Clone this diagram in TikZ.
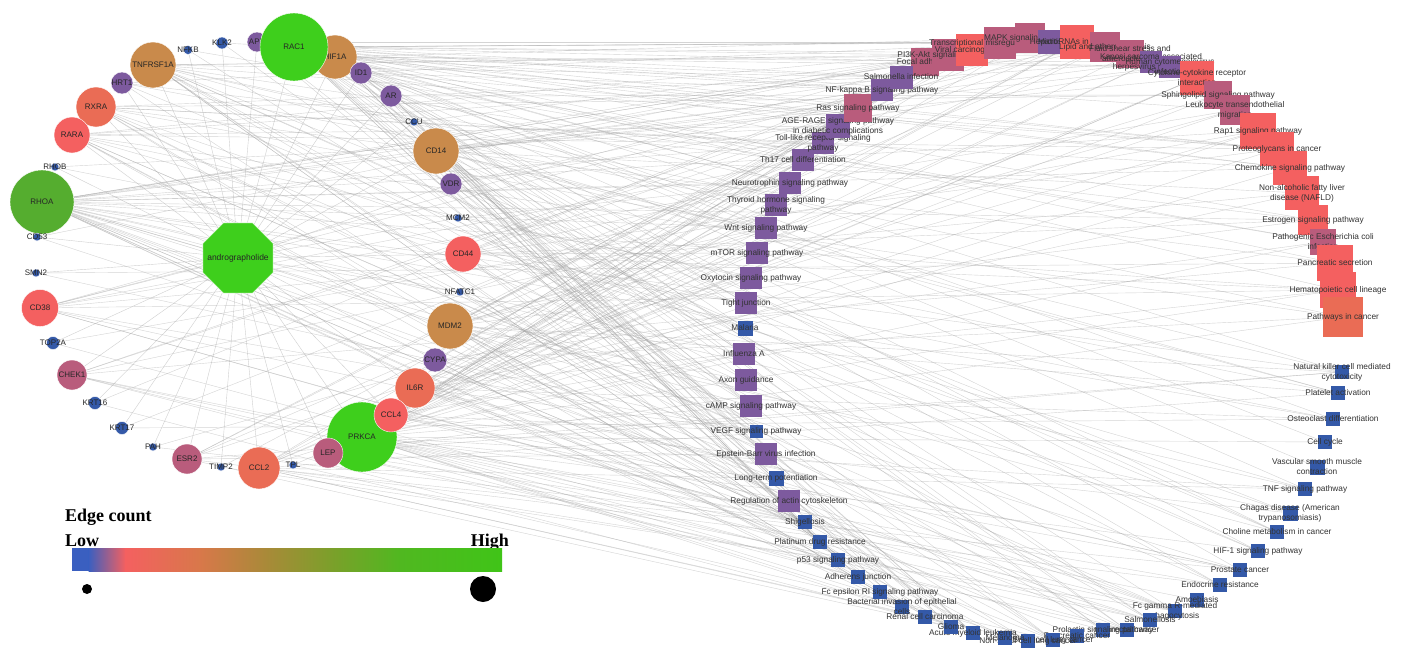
\documentclass[tikz,border=0pt]{standalone}
\usepackage{fontspec}
\setmainfont{Liberation Sans}
\newfontfamily\legfont{Liberation Serif}
\usetikzlibrary{shapes.geometric}
\pgfdeclarelayer{bg}
\pgfsetlayers{bg,main}
\definecolor{cblue}{HTML}{3459A8}
\definecolor{cpurp}{HTML}{7D5A9E}
\definecolor{cmauve}{HTML}{B95C7C}
\definecolor{cred}{HTML}{F46060}
\definecolor{corange}{HTML}{EA6C55}
\definecolor{cbrown}{HTML}{C98A4B}
\definecolor{cgreen}{HTML}{3ECF1C}
\definecolor{cdgreen}{HTML}{55AD2F}
\definecolor{edgec}{HTML}{A0A0A0}
\tikzset{
  gene/.style={circle, inner sep=0pt, draw=white, line width=0.4pt},
  glab/.style={font=\fontsize{8}{9}\selectfont, text=black!85, inner sep=0pt},
  sqbox/.style={rectangle, inner sep=0pt, draw=none},
  plab/.style={font=\fontsize{8.3}{10}\selectfont, text=black!80, inner sep=0pt, align=center},
  edge/.style={draw=edgec, line width=0.4pt, opacity=0.45},
  staredge/.style={draw=edgec, line width=0.4pt, opacity=0.5},
  legtext/.style={font=\legfont\bfseries\fontsize{18}{20}\selectfont, inner sep=0pt},
  legdot/.style={circle, fill=black, inner sep=0pt},
}
\newcommand\gn[6]{\node[gene, minimum size=#4pt, fill=#5] (g#1) at (#2,#3) {};\node[glab] at (g#1) {#6};}
\newcommand\pw[6]{\node[sqbox, minimum size=#4pt, fill=#5] (p#1) at (#2,#3) {};\node[plab] at (p#1) {#6};}
\begin{document}
\begin{tikzpicture}[x=1pt,y=-1pt]
\useasboundingbox (0,0) rectangle (1403,648);

% ---------- pathways ----------
\pw{1}{925}{62}{28}{cmauve}{Focal adhesion}
\pw{2}{948}{55}{32}{cmauve}{PI3K-Akt signaling pathway}
\pw{3}{972}{50}{32}{cred}{Viral carcinogenesis}
\pw{4}{1000}{43}{32}{cmauve}{Transcriptional misregulation in cancer}
\pw{5}{1030}{38}{30}{cmauve}{MAPK signaling pathway}
\pw{6}{1050}{42}{24}{cpurp}{Hepatitis B}
\pw{7}{1077}{42}{34}{cred}{MicroRNAs in cancer}
\pw{8}{1105}{47}{30}{cmauve}{Lipid and atherosclerosis}
\pw{9}{1130}{54}{28}{cmauve}{Fluid shear stress and\\atherosclerosis}
\pw{10}{1151}{62}{22}{cpurp}{Kaposi sarcoma-associated\\herpesvirus infection}
\pw{11}{1170}{67}{22}{cpurp}{Human cytomegalovirus\\infection}
\pw{12}{1197}{78}{34}{cred}{Cytokine-cytokine receptor\\interaction}
\pw{13}{1218}{95}{28}{cmauve}{Sphingolipid signaling pathway}
\pw{14}{1235}{110}{30}{cmauve}{Leukocyte transendothelial\\migration}
\pw{15}{1258}{131}{36}{cred}{Rap1 signaling pathway}
\pw{16}{1277}{149}{34}{cred}{Proteoglycans in cancer}
\pw{17}{1290}{168}{34}{cred}{Chemokine signaling pathway}
\pw{18}{1302}{193}{34}{cred}{Non-alcoholic fatty liver\\disease (NAFLD)}
\pw{19}{1313}{220}{30}{cred}{Estrogen signaling pathway}
\pw{20}{1323}{242}{26}{cmauve}{Pathogenic Escherichia coli\\infection}
\pw{21}{1335}{263}{36}{cred}{Pancreatic secretion}
\pw{22}{1338}{290}{36}{cred}{Hematopoietic cell lineage}
\pw{23}{1343}{317}{40}{corange}{Pathways in cancer}
\pw{24}{1342}{372}{14}{cblue}{Natural killer cell mediated\\cytotoxicity}
\pw{25}{1338}{393}{14}{cblue}{Platelet activation}
\pw{26}{1333}{419}{14}{cblue}{Osteoclast differentiation}
\pw{27}{1325}{442}{14}{cblue}{Cell cycle}
\pw{28}{1317}{467}{15}{cblue}{Vascular smooth muscle\\contraction}
\pw{29}{1305}{489}{14}{cblue}{TNF signaling pathway}
\pw{30}{1290}{513}{15}{cblue}{Chagas disease (American\\trypanosomiasis)}
\pw{31}{1277}{532}{14}{cblue}{Choline metabolism in cancer}
\pw{32}{1258}{551}{14}{cblue}{HIF-1 signaling pathway}
\pw{33}{1240}{570}{14}{cblue}{Prostate cancer}
\pw{34}{1220}{585}{14}{cblue}{Endocrine resistance}
\pw{35}{1197}{600}{14}{cblue}{Amoebiasis}
\pw{36}{1175}{611}{14}{cblue}{Fc gamma R-mediated\\phagocytosis}
\pw{37}{1150}{620}{14}{cblue}{Salmonellosis}
\pw{38}{1127}{630}{14}{cblue}{Colorectal cancer}
\pw{39}{1103}{630}{14}{cblue}{Prolactin signaling pathway}
\pw{40}{1077}{636}{14}{cblue}{Pancreatic cancer}
\pw{41}{1053}{640}{14}{cblue}{Small cell lung cancer}
\pw{42}{1028}{641}{14}{cblue}{Non-small cell lung cancer}
\pw{43}{1005}{638}{14}{cblue}{Melanoma}
\pw{44}{973}{633}{14}{cblue}{Acute myeloid leukemia}
\pw{45}{951}{627}{14}{cblue}{Glioma}
\pw{46}{925}{617}{14}{cblue}{Renal cell carcinoma}
\pw{47}{902}{607}{14}{cblue}{Bacterial invasion of epithelial\\cells}
\pw{48}{880}{592}{14}{cblue}{Fc epsilon RI signaling pathway}
\pw{49}{858}{577}{14}{cblue}{Adherens junction}
\pw{50}{838}{560}{14}{cblue}{p53 signaling pathway}
\pw{51}{820}{542}{14}{cblue}{Platinum drug resistance}
\pw{52}{805}{522}{14}{cblue}{Shigellosis}
\pw{53}{789}{501}{22}{cpurp}{Regulation of actin cytoskeleton}
\pw{54}{776}{478}{15}{cblue}{Long-term potentiation}
\pw{55}{766}{454}{22}{cpurp}{Epstein-Barr virus infection}
\pw{56}{756}{431}{13}{cblue}{VEGF signaling pathway}
\pw{57}{751}{406}{22}{cpurp}{cAMP signaling pathway}
\pw{58}{746}{380}{22}{cpurp}{Axon guidance}
\pw{59}{744}{354}{22}{cpurp}{Influenza A}
\pw{60}{745}{328}{15}{cblue}{Malaria}
\pw{61}{746}{303}{22}{cpurp}{Tight junction}
\pw{62}{751}{278}{22}{cpurp}{Oxytocin signaling pathway}
\pw{63}{757}{253}{22}{cpurp}{mTOR signaling pathway}
\pw{64}{766}{228}{22}{cpurp}{Wnt signaling pathway}
\pw{65}{776}{205}{22}{cpurp}{Thyroid hormone signaling\\pathway}
\pw{66}{790}{183}{22}{cpurp}{Neurotrophin signaling pathway}
\pw{67}{803}{160}{22}{cpurp}{Th17 cell differentiation}
\pw{68}{823}{143}{22}{cpurp}{Toll-like receptor signaling\\pathway}
\pw{69}{838}{126}{24}{cpurp}{AGE-RAGE signaling pathway\\in diabetic complications}
\pw{70}{858}{108}{28}{cmauve}{Ras signaling pathway}
\pw{71}{882}{90}{22}{cpurp}{NF-kappa B signaling pathway}
\pw{72}{901}{77}{23}{cpurp}{Salmonella infection}

% ---------- genes ----------
\node[regular polygon, regular polygon sides=8, minimum size=76pt, inner sep=0pt, fill=cgreen, draw=white, line width=0.4pt] (andro) at (238,258) {};
\node[glab, font=\fontsize{8.5}{9}\selectfont] at (andro) {andrographolide};
\gn{HIF}{335}{57}{44}{cbrown}{HIF1A}
\gn{APP}{257}{42}{20}{cpurp}{APP}
\gn{RAC}{294}{47}{68}{cgreen}{RAC1}
\gn{KLK}{222}{43}{12}{cblue}{KLK2}
\gn{NFKB}{188}{50}{9}{cblue}{NFKB}
\gn{TNF}{153}{65}{46}{cbrown}{TNFRSF1A}
\gn{HRT}{122}{83}{22}{cpurp}{HRT1}
\gn{RXRA}{96}{107}{40}{corange}{RXRA}
\gn{RARA}{72}{135}{36}{cred}{RARA}
\gn{RHOB}{55}{167}{8}{cblue}{RHOB}
\gn{RHOA}{42}{202}{64}{cdgreen}{RHOA}
\gn{CDF}{37}{237}{8}{cblue}{CD53}
\gn{SMN}{36}{273}{8}{cblue}{SMN2}
\gn{CD38}{40}{308}{37}{cred}{CD38}
\gn{TOP}{53}{343}{13}{cblue}{TOP2A}
\gn{CHEK}{72}{375}{30}{cmauve}{CHEK1}
\gn{KRTa}{95}{403}{13}{cblue}{KRT16}
\gn{KRTb}{122}{428}{13}{cblue}{KRT17}
\gn{PAH}{153}{447}{8}{cblue}{PAH}
\gn{ESR}{187}{459}{30}{cmauve}{ESR2}
\gn{TIMP}{221}{467}{8}{cblue}{TIMP2}
\gn{CCLb}{259}{468}{42}{corange}{CCL2}
\gn{TPL}{293}{465}{8}{cblue}{TPL}
\gn{PRKCA}{362}{437}{70}{cgreen}{PRKCA}
\gn{IL}{415}{388}{40}{corange}{IL6R}
\gn{CCLd}{391}{415}{34}{cred}{CCL4}
\gn{LEP}{328}{453}{30}{cmauve}{LEP}
\gn{CYPA}{435}{360}{24}{cpurp}{CYPA}
\gn{MDM}{450}{326}{46}{cbrown}{MDM2}
\gn{NFAT}{460}{292}{8}{cblue}{NFATC1}
\gn{CD44}{463}{254}{36}{cred}{CD44}
\gn{MCM}{458}{218}{8}{cblue}{MCM2}
\gn{VDR}{451}{184}{22}{cpurp}{VDR}
\gn{CD14}{436}{151}{46}{cbrown}{CD14}
\gn{CCU}{414}{122}{8}{cblue}{CCU}
\gn{AR}{391}{96}{22}{cpurp}{AR}
\gn{ID}{361}{73}{22}{cpurp}{ID1}

% ---------- edges ----------
\begin{pgfonlayer}{bg}
\fill[white] (0,0) rectangle (1403,648);
\foreach \gid in {HIF,APP,RAC,KLK,NFKB,TNF,HRT,RXRA,RARA,RHOB,RHOA,CDF,SMN,CD38,TOP,CHEK,KRTa,KRTb,PAH,ESR,TIMP,CCLb,TPL,PRKCA,IL,CCLd,LEP,CYPA,MDM,NFAT,CD44,MCM,VDR,CD14,CCU,AR,ID}
  {\draw[staredge] (andro) -- (g\gid);}
\foreach \gid/\gdeg/\goff/\gstep in {RAC/30/0/5, RHOA/30/11/7, PRKCA/28/23/5, HIF/20/5/11, TNF/18/17/7, CD14/18/31/13, MDM/18/41/11, RXRA/12/3/17, RARA/12/29/13, CD38/10/47/19, CCLb/12/53/17, IL/12/13/19, CCLd/10/61/23, CD44/10/37/25, CHEK/8/19/29, ESR/8/43/31, LEP/8/7/29, APP/5/33/11, HRT/5/51/13, ID/5/2/17, AR/5/27/19, VDR/5/59/23, CYPA/5/66/25, KLK/2/9/31, NFKB/2/21/35, RHOB/2/39/29, CDF/2/45/31, SMN/2/57/35, TOP/2/63/23, KRTa/2/15/29, KRTb/2/35/31, PAH/2/49/37, TIMP/2/25/41, TPL/2/69/43, NFAT/2/4/37, MCM/2/55/41, CCU/2/30/43}{
  \foreach \k in {1,...,\gdeg}{
    \pgfmathtruncatemacro{\pid}{mod(\goff+\k*\gstep,72)+1}
    \draw[edge] (g\gid) -- (p\pid);
  }
}
\end{pgfonlayer}

% ---------- legend ----------
\node[legtext, anchor=base west] (legt) at (65,521) {Edge count};
\node[legtext, anchor=base west] (leglow) at (65,546) {Low};
\node[legtext, anchor=base east] (leghigh) at (509,546) {High};
\fill[color={rgb,255:red,58;green,95;blue,192}] (72,548) rectangle (89,571);
\shade[left color={rgb,255:red,58;green,95;blue,192}, right color=cred] (88.5,548) rectangle (125.5,571);
\shade[left color=cred, right color={rgb,255:red,216;green,120;blue,74}] (125,548) rectangle (200.5,571);
\shade[left color={rgb,255:red,216;green,120;blue,74}, right color={rgb,255:red,168;green,138;blue,56}] (200,548) rectangle (267.5,571);
\shade[left color={rgb,255:red,168;green,138;blue,56}, right color={rgb,255:red,122;green,160;blue,42}] (267,548) rectangle (333.5,571);
\shade[left color={rgb,255:red,122;green,160;blue,42}, right color={rgb,255:red,80;green,184;blue,32}] (333,548) rectangle (400.5,571);
\shade[left color={rgb,255:red,80;green,184;blue,32}, right color={rgb,255:red,64;green,196;blue,24}] (400,548) rectangle (502,571);
\node[legdot, minimum size=10pt] (dotlo) at (87,589) {};
\node[legdot, minimum size=26pt] (dothi) at (483,589) {};
\end{tikzpicture}
\end{document}
